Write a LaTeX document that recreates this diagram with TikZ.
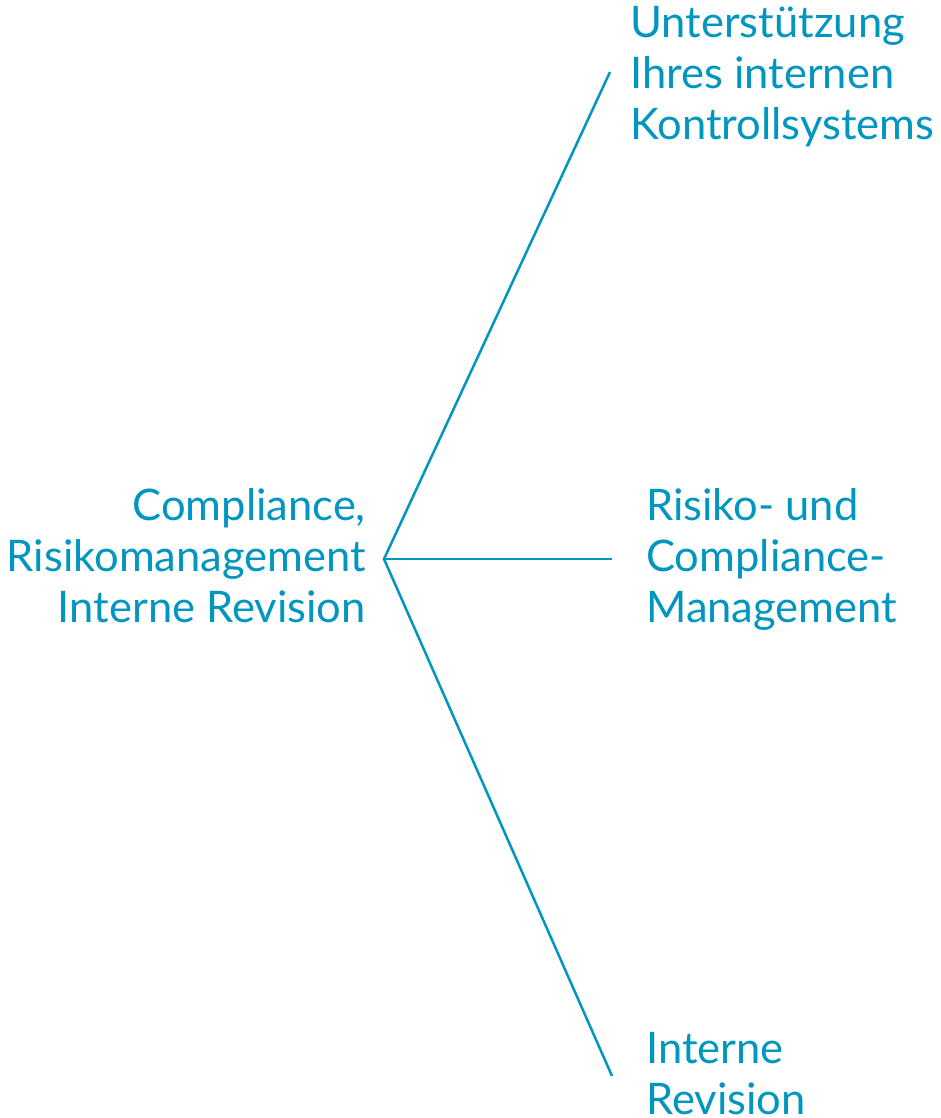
\documentclass[tikz,border=0pt]{standalone}
\usepackage{fontspec}
\setmainfont{Lato}
\definecolor{petrol}{RGB}{0,150,192}

\begin{document}
\begin{tikzpicture}[x=1pt, y=-1pt,
   every node/.style={text=petrol, inner sep=0pt, font=\fontsize{43.5}{51}\selectfont},
   branch/.style={draw=petrol, line width=2.5pt}]
\useasboundingbox (0,0) rectangle (940,1118);

% Verzweigungspunkt und Astenden
\coordinate (hub) at (384,559);
\coordinate (oben) at (610,72);
\coordinate (mitte) at (612,559);
\coordinate (unten) at (612,1076);

\node[anchor=base east, align=right] (thema) at (366,622)
    {Compliance,\\Risikomanagement\\Interne Revision};
\node[anchor=base west, align=left] (kontrolle) at (630,140)
    {Unterstützung\\Ihres internen\\Kontrollsystems};
\node[anchor=base west, align=left] (risiko) at (646,622)
    {Risiko- und\\Compliance-\\Management};
\node[anchor=base west, align=left] (revision) at (646,1114)
    {Interne\\Revision};

\draw[branch] (oben) -- (hub) -- (unten);
\draw[branch] (hub) -- (mitte);
\end{tikzpicture}
\end{document}
